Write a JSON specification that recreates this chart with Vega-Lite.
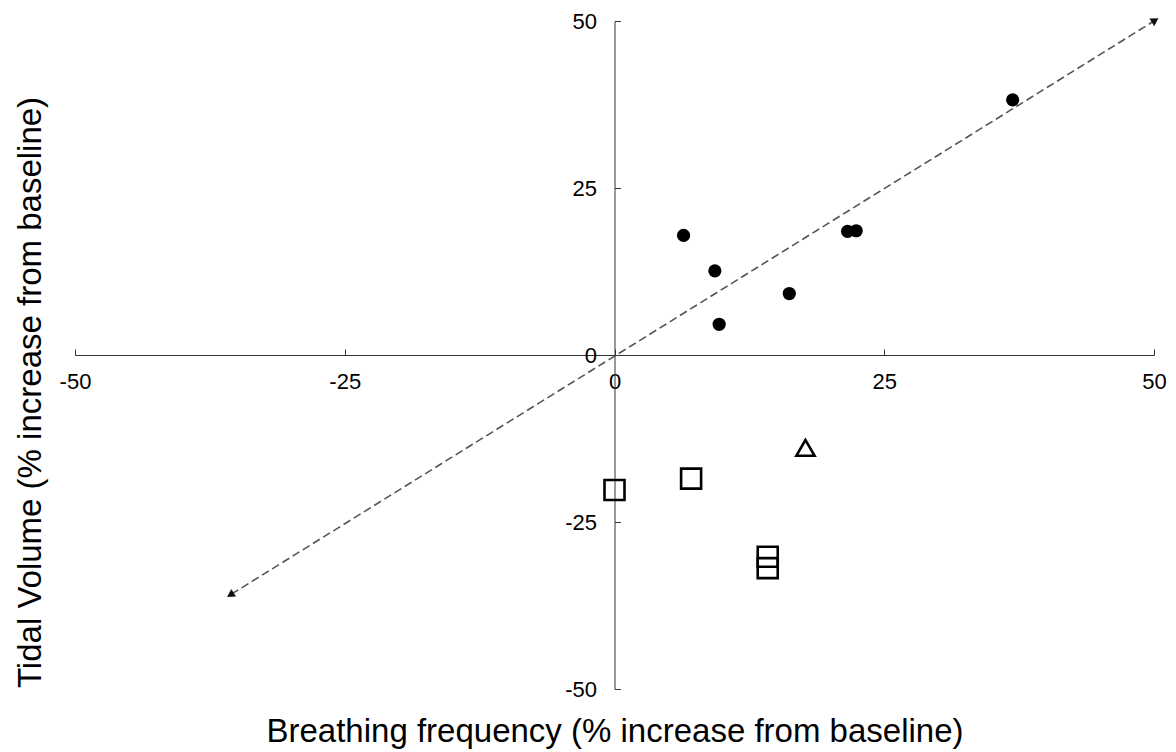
{
  "$schema": "https://vega.github.io/schema/vega-lite/v6.json",
  "width": 1079,
  "height": 668,
  "autosize": "none",
  "padding": {"left": 75, "top": 21, "right": 22, "bottom": 63},
  "background": "white",
  "config": {"view": {"stroke": null}, "font": "Liberation Sans"},
  "datasets": {
    "points": [
      {"bf": 6.4, "tv": 17.9, "group": "filled circle"},
      {"bf": 9.3, "tv": 12.6, "group": "filled circle"},
      {"bf": 9.7, "tv": 4.6, "group": "filled circle"},
      {"bf": 16.2, "tv": 9.2, "group": "filled circle"},
      {"bf": 21.6, "tv": 18.5, "group": "filled circle"},
      {"bf": 22.4, "tv": 18.6, "group": "filled circle"},
      {"bf": 36.9, "tv": 38.2, "group": "filled circle"},
      {"bf": 0.0, "tv": -20.2, "group": "open square"},
      {"bf": 7.1, "tv": -18.5, "group": "open square"},
      {"bf": 14.2, "tv": -30.2, "group": "open square"},
      {"bf": 14.2, "tv": -31.9, "group": "open square"},
      {"bf": 17.7, "tv": -13.9, "group": "open triangle"}
    ],
    "identity": [
      {"bf": -35.5, "tv": -35.8, "end": "lower"},
      {"bf": 50, "tv": 50, "end": "upper"}
    ]
  },
  "layer": [
    {
      "data": {"name": "identity"},
      "mark": {"type": "line", "strokeDash": [8, 4], "color": "#555555", "strokeWidth": 1.6},
      "encoding": {
        "x": {
          "field": "bf", "type": "quantitative",
          "scale": {"domain": [-50, 50], "nice": false, "zero": false},
          "axis": {
            "title": "Breathing frequency (% increase from baseline)",
            "orient": "bottom", "offset": -334, "values": [-50, -25, 0, 25, 50],
            "labelExpr": "toString(datum.value)",
            "grid": false, "domainColor": "#333333", "tickColor": "#333333",
            "tickSize": -6, "labelPadding": 22, "labelFontSize": 22, "labelColor": "#000000",
            "labelFlush": false, "labelOverlap": false,
            "titleFontSize": 33, "titleFontWeight": "normal", "titleColor": "#000000",
            "titleX": 539.5, "titleY": 386, "titleBaseline": "alphabetic", "titleAlign": "center"
          }
        },
        "y": {
          "field": "tv", "type": "quantitative",
          "scale": {"domain": [-50, 50], "nice": false, "zero": false},
          "axis": {
            "title": "Tidal Volume (% increase from baseline)",
            "orient": "left", "offset": -539.5, "values": [-50, -25, 0, 25, 50],
            "labelExpr": "toString(datum.value)",
            "grid": false, "domainColor": "#333333", "tickColor": "#333333",
            "tickSize": -6, "labelPadding": 24, "labelFontSize": 22, "labelColor": "#000000",
            "labelFlush": false, "labelOverlap": false,
            "titleFontSize": 33, "titleFontWeight": "normal", "titleColor": "#000000",
            "titleX": -574.5, "titleY": 371, "titleBaseline": "alphabetic", "titleAlign": "center", "titleAngle": -90
          }
        }
      }
    },
    {
      "data": {"name": "identity"},
      "transform": [{"filter": "datum.end === 'upper'"}],
      "mark": {"type": "point", "shape": "triangle", "filled": true, "color": "#111111", "size": 80, "angle": 58, "opacity": 1},
      "encoding": {
        "x": {"field": "bf", "type": "quantitative"},
        "y": {"field": "tv", "type": "quantitative"}
      }
    },
    {
      "data": {"name": "identity"},
      "transform": [{"filter": "datum.end === 'lower'"}],
      "mark": {"type": "point", "shape": "triangle", "filled": true, "color": "#111111", "size": 80, "angle": 238, "opacity": 1},
      "encoding": {
        "x": {"field": "bf", "type": "quantitative"},
        "y": {"field": "tv", "type": "quantitative"}
      }
    },
    {
      "data": {"name": "points"},
      "transform": [{"filter": "datum.group === 'filled circle'"}],
      "mark": {"type": "point", "shape": "circle", "filled": true, "color": "#000000", "size": 175, "opacity": 1},
      "encoding": {
        "x": {"field": "bf", "type": "quantitative"},
        "y": {"field": "tv", "type": "quantitative"}
      }
    },
    {
      "data": {"name": "points"},
      "transform": [{"filter": "datum.group === 'open square'"}],
      "mark": {"type": "point", "shape": "square", "filled": false, "color": "#000000", "size": 400, "strokeWidth": 2.6, "opacity": 1},
      "encoding": {
        "x": {"field": "bf", "type": "quantitative"},
        "y": {"field": "tv", "type": "quantitative"}
      }
    },
    {
      "data": {"name": "points"},
      "transform": [{"filter": "datum.group === 'open triangle'"}],
      "mark": {"type": "point", "shape": "triangle-up", "filled": false, "color": "#000000", "size": 330, "strokeWidth": 2.6, "opacity": 1},
      "encoding": {
        "x": {"field": "bf", "type": "quantitative"},
        "y": {"field": "tv", "type": "quantitative"}
      }
    }
  ]
}
